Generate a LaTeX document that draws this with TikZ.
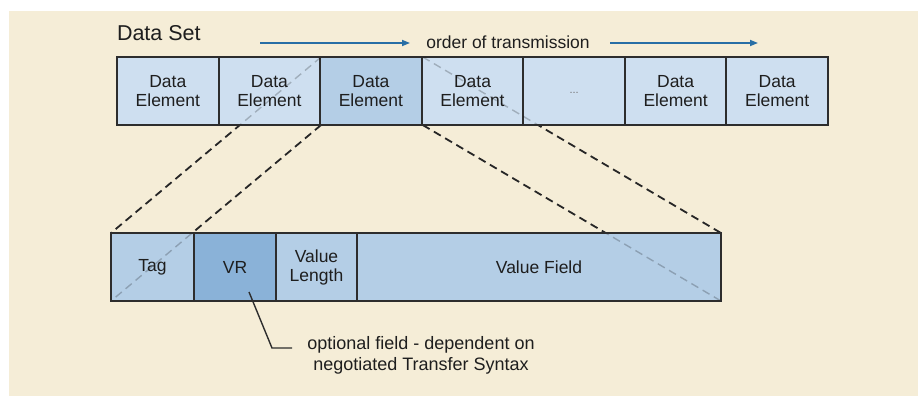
\documentclass[tikz,border=0pt]{standalone}
\usepackage{fontspec}
\setmainfont{Liberation Sans}
\usetikzlibrary{arrows.meta,calc}
\definecolor{bgbeige}{RGB}{245,237,215}
\definecolor{celllight}{RGB}{206,223,240}
\definecolor{cellmid}{RGB}{180,206,230}
\definecolor{celldark}{RGB}{138,178,216}
\definecolor{borderc}{RGB}{45,45,45}
\definecolor{arrowblue}{RGB}{40,110,165}
\definecolor{txt}{RGB}{30,30,30}
\tikzset{
  cellbox/.style={draw=borderc, line width=1.8pt,
    minimum height=68pt, inner sep=0pt, outer sep=0pt, align=center, text=txt,
    font=\fontsize{17.5}{19}\selectfont},
  lightcell/.style={cellbox, fill=celllight, minimum width=101.57pt},
  midcell/.style={cellbox, fill=cellmid},
  darkcell/.style={cellbox, fill=celldark},
  perspline/.style={draw=black!85, line width=1.8pt, dash pattern=on 8pt off 5pt},
  faintline/.style={draw=black, draw opacity=0.22, line width=1.4pt, dash pattern=on 8pt off 5pt},
  orderarrow/.style={draw=arrowblue, line width=1.6pt, -{Triangle[length=8pt,width=6pt]}},
  lbl/.style={text=txt, inner sep=0pt, outer sep=0pt}
}
\begin{document}
\begin{tikzpicture}[x=1pt,y=-1pt]
\useasboundingbox (0,0) rectangle (918,396);
\fill[bgbeige] (9,11) rectangle (918,396);

% title and order of transmission
\node[lbl, anchor=west, font=\fontsize{21.5}{24}\selectfont] (dataset) at (117,33) {Data Set};
\node[lbl, font=\fontsize{17.5}{19}\selectfont] (order) at (508,42) {order of transmission};
\coordinate (la) at (260,43);
\coordinate (lb) at (410,43);
\coordinate (ra) at (610,43);
\coordinate (rb) at (758,43);
\draw[orderarrow] (la) -- (lb);
\draw[orderarrow] (ra) -- (rb);

% perspective dashed lines
\coordinate (e3nw) at (321.1,57);
\coordinate (e3sw) at (321.1,125);
\coordinate (e3ne) at (422.7,57);
\coordinate (e3se) at (422.7,125);
\coordinate (bnw) at (111,233);
\coordinate (bsw) at (111,301);
\coordinate (bne) at (721,233);
\coordinate (bse) at (721,301);
\draw[perspline] (e3nw) -- (bnw);
\draw[perspline] (e3sw) -- (bsw);
\draw[perspline] (e3ne) -- (bne);
\draw[perspline] (e3se) -- (bse);

% top row of data elements
\node[lightcell] (e1) at (167.8,91) {Data\\Element};
\node[lightcell] (e2) at (269.4,91) {Data\\Element};
\node[lightcell, fill=cellmid] (e3) at (370.9,91) {Data\\Element};
\node[lightcell] (e4) at (472.5,91) {Data\\Element};
\node[lightcell] (e5) at (574.1,91) {\raisebox{-5pt}{\fontsize{11}{12}\selectfont\color{black!55}...}};
\node[lightcell] (e6) at (675.6,91) {Data\\Element};
\node[lightcell] (e7) at (777.2,91) {Data\\Element};

% bottom row: data element structure
\node[midcell, minimum width=83pt] (tag) at (152.5,267) {Tag};
\node[darkcell, minimum width=82pt] (vr) at (235,267) {VR};
\node[midcell, minimum width=81pt] (vl) at (316.5,267) {Value\\Length};
\node[midcell, minimum width=364pt] (vf) at (539,267) {Value Field};

% faint continuation of the dashed lines across the boxes
\begin{scope}
\clip (118,58) rectangle (827,124) (112,234) rectangle (720,300);
\draw[faintline] (e3nw) -- (bnw);
\draw[faintline] (e3sw) -- (bsw);
\draw[faintline] (e3ne) -- (bne);
\draw[faintline] (e3se) -- (bse);
\end{scope}

% callout
\node[lbl, align=center, font=\fontsize{18}{21}\selectfont] (note) at (421,355) {optional field - dependent on\\negotiated Transfer Syntax};
\coordinate (c1) at (249,292);
\coordinate (c2) at (272,348);
\coordinate (c3) at (292,348);
\draw[borderc, line width=1.4pt] (c1) -- (c2) -- (c3);
\end{tikzpicture}
\end{document}
